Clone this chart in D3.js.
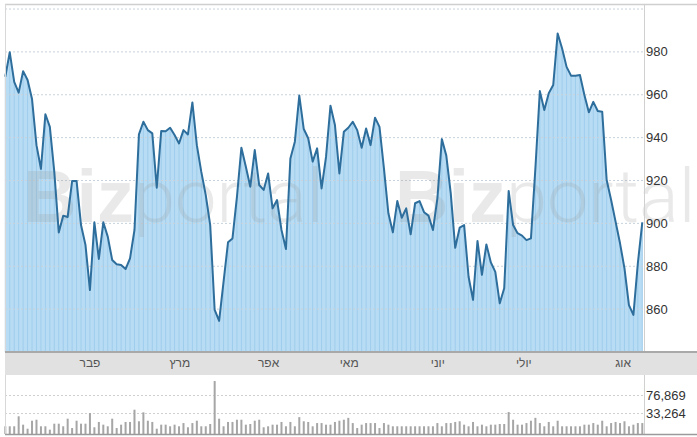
<!DOCTYPE html>
<html><head><meta charset="utf-8">
<script src="https://cdn.jsdelivr.net/npm/d3@7"></script>
<style>body{margin:0;background:#fff}svg{display:block}</style>
</head><body>
<svg id="c" width="697" height="437"></svg>
<script>
const prices = [
968.4, 979.8, 966, 961, 971, 966.9, 958, 936.5, 925.4, 950.9, 945, 924, 895.8, 903.6, 903, 919.8, 919.8, 899.2, 889.9, 868.9, 900.5, 883.4, 900.5, 893.8, 882.9, 880.9, 880.6, 878.7, 883.7, 896.9, 941.5, 947.4, 943.5, 942, 916.6, 943.1,
943, 944.6, 941.2, 937.3, 943.5, 941.5, 956.4, 936.5, 924, 913.2, 899.2, 859.6, 854.5, 872.8, 891.2, 893, 912.4, 935.3, 926.4, 917.1, 934.2, 917.9, 915.6, 923.3, 907, 910.9, 896.9, 888, 930.3, 938.1, 959.6, 944, 939.7, 928.8, 935, 916.3,
931, 954.9, 945.9, 923.3, 942.7, 944.6, 947.4, 943.5, 935.3, 944.3, 936.5, 949.3, 945, 925.7, 904.7, 895.8, 910.4, 902.6, 907, 894.9, 909.4, 910.4, 905.2, 903.6, 896.9, 911.7, 939.3, 931.6, 914, 888.6, 898, 899.2, 875.1, 864.3, 891.8, 876,
890.2, 881.8, 877.4, 862.7, 869.7, 915.1, 899.2, 895.4, 894.3, 892.2, 893, 925.7, 961.7, 952.9, 960.7, 964.5, 988.6, 981.6, 973, 968.9, 968.9, 969.2, 959.9, 951.8, 956.7, 952.4, 952.1, 920.2, 910.9, 900.8, 890.7, 879, 861.9, 857.3, 881.4, 900.5
];
const volumes = [
17900,17900,17900,28500,19300,16000,23200,24300,17900,17900,15300,20200,20200,17900,25500,16500,23200,20200,20200,33200,17100,21900,19300,17900,25500,16500,19300,21900,21900,38700,22600,34300,23200,21900,16000,19300,
19300,17900,19300,17900,20800,17100,20800,23200,17900,17900,19900,147000,25500,17900,21900,21900,24300,24300,19300,19900,23200,24300,17100,17900,19300,19300,21900,17900,21900,17900,27400,22600,21900,17900,20800,20800,
19300,19300,21900,23200,24300,26500,20800,16500,19300,20800,20800,20800,16500,20800,19300,17900,17900,17900,17900,17900,17900,17900,17900,17900,17900,20800,17900,20800,20800,21900,22600,19300,17900,21900,17900,19300,
17900,19300,19300,19900,19900,34700,24300,19300,19300,20800,23200,26500,20800,17900,21900,17900,23200,17900,17900,17900,17900,17900,19300,19300,20800,19300,23200,17900,20800,21900,20800,22600,17900,19300,20800,20800
];
const priceTicks = [860, 880, 900, 920, 940, 960, 980];
const priceGrid = [860, 880, 900, 920, 940, 960, 980, 1000];
const monthLabels = ["פבר", "מרץ", "אפר", "מאי", "יוני", "יולי", "אוג"];
const monthPos = [19, 39.2, 59.1, 77.2, 97.1, 116.4, 138.7];
const volumeTicks = [33264, 76869];

const svg = d3.select("#c");
const L = 5, R = 644, W = 697;
const x = d3.scaleLinear().domain([0, prices.length - 1]).range([5.3, 642.3]);
const y = d3.scaleLinear().domain([840, 1000]).range([352, 9]);
const yv = d3.scaleLog().domain([12500, 150000]).range([434, 380.6]);

// watermark behind? draw later on top with transparency
// area
const area = d3.area().x((d, i) => x(i)).y0(y(840)).y1(d => y(d));
svg.append("path").datum(prices).attr("d", area).attr("fill", "#b8dcf4");
// stripes
svg.append("g").selectAll("line").data(prices).join("line")
  .attr("x1", (d, i) => x(i)).attr("x2", (d, i) => x(i))
  .attr("y1", d => y(d)).attr("y2", y(840))
  .attr("stroke", "#9fcdec").attr("stroke-width", 1);

// grid
svg.append("g").selectAll("line").data(priceGrid).join("line")
  .attr("x1", L).attr("x2", R).attr("y1", d => y(d)).attr("y2", d => y(d))
  .attr("stroke", "#c9d2da").attr("stroke-width", 1).attr("stroke-dasharray", "2,2");

// watermark
const wm = svg.append("g").attr("fill", "#9a9a9a").attr("fill-opacity", 0.22).attr("font-family", "Liberation Sans, Arial, sans-serif");
[[23, 222], [395, 222]].forEach(([wx, wy]) => {
  const t = wm.append("text").attr("x", wx).attr("y", wy).attr("font-size", 74);
  t.append("tspan").attr("font-weight", "bold").text("Biz");
  t.append("tspan").attr("font-family", "Roboto, Lato, sans-serif").attr("font-weight", 300).text("portal");
});

// line
const line = d3.line().x((d, i) => x(i)).y(d => y(d));
svg.append("path").datum(prices).attr("d", line).attr("fill", "none")
  .attr("stroke", "#2e6e9c").attr("stroke-width", 2).attr("stroke-linejoin", "round");

// frame
svg.append("line").attr("x1", L).attr("x2", W).attr("y1", 4.5).attr("y2", 4.5).attr("stroke", "#cfcfcf").attr("stroke-width", 1.5);
svg.append("line").attr("x1", L + 0.5).attr("x2", L + 0.5).attr("y1", 4).attr("y2", 352).attr("stroke", "#d8d8d8");
svg.append("line").attr("x1", R + 0.5).attr("x2", R + 0.5).attr("y1", 4).attr("y2", 352).attr("stroke", "#d0d0d0");

// right axis labels
svg.append("g").selectAll("text").data(priceTicks).join("text")
  .attr("x", 646).attr("y", d => y(d)).attr("dy", "0.35em")
  .attr("font-family", "Liberation Sans, Arial, sans-serif").attr("font-size", 13).attr("fill", "#333")
  .text(d => d);

// month band
svg.append("rect").attr("x", L).attr("y", 352).attr("width", W - L).attr("height", 23).attr("fill", "#e1e1e1");
svg.append("line").attr("x1", L).attr("x2", W).attr("y1", 352).attr("y2", 352).attr("stroke", "#a9a9a9").attr("stroke-width", 2);
svg.append("g").selectAll("text").data(monthLabels).join("text")
  .attr("x", (d, i) => x(monthPos[i])).attr("y", 367).attr("text-anchor", "middle")
  .attr("font-family", "Liberation Sans, Arial, sans-serif").attr("font-size", 12).attr("fill", "#555")
  .text(d => d);

// volume panel
svg.append("g").selectAll("line").data(volumeTicks).join("line")
  .attr("x1", L).attr("x2", R).attr("y1", d => Math.round(yv(d)) + 0.5).attr("y2", d => Math.round(yv(d)) + 0.5)
  .attr("stroke", "#d0d0d0").attr("stroke-dasharray", "2,2");
svg.append("g").selectAll("rect").data(volumes).join("rect")
  .attr("x", (d, i) => x(i) - 1).attr("width", 2)
  .attr("y", d => yv(d)).attr("height", d => yv.range()[0] - yv(d))
  .attr("fill", "#a6a6a6");
svg.append("line").attr("x1", R + 0.5).attr("x2", R + 0.5).attr("y1", 375).attr("y2", 434).attr("stroke", "#d0d0d0");
svg.append("line").attr("x1", L + 0.5).attr("x2", L + 0.5).attr("y1", 375).attr("y2", 434).attr("stroke", "#d8d8d8");
svg.append("line").attr("x1", L).attr("x2", W).attr("y1", 434.5).attr("y2", 434.5).attr("stroke", "#9a9a9a").attr("stroke-width", 1.5);
svg.append("g").selectAll("text").data(volumeTicks).join("text")
  .attr("x", 646).attr("y", d => yv(d)).attr("dy", "0.35em")
  .attr("font-family", "Liberation Sans, Arial, sans-serif").attr("font-size", 13).attr("fill", "#333")
  .text(d => d3.format(",")(d));
</script>
</body></html>
